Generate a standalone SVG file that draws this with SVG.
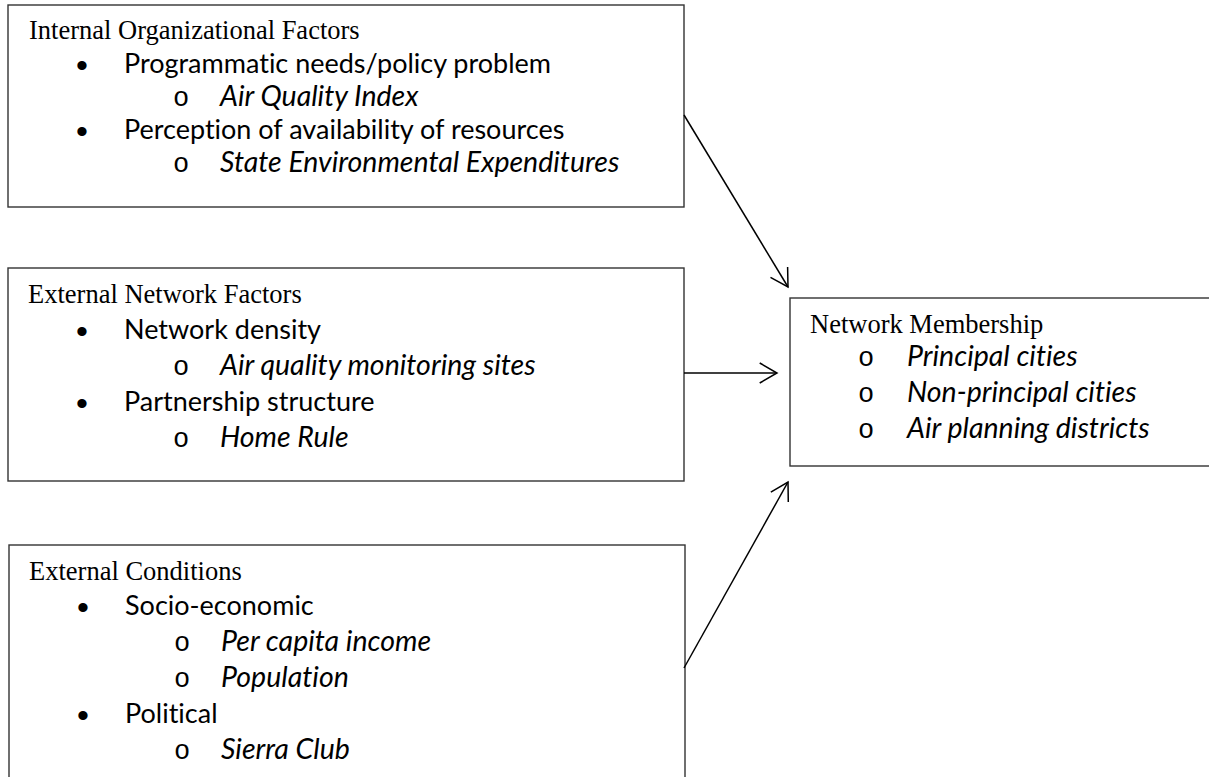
<svg xmlns="http://www.w3.org/2000/svg" width="1209" height="777" viewBox="0 0 1209 777">
<defs>
<style>
.box{fill:#fff;stroke:#333;stroke-width:1.4}
.h{font-family:"Liberation Serif","Times New Roman",serif;font-size:26.5px;fill:#000}
.t{font-family:Lato,"Liberation Sans",sans-serif;font-size:27px;fill:#000;font-variant-ligatures:none}
.i{font-family:Lato,"Liberation Sans",sans-serif;font-size:28.5px;font-style:italic;fill:#000;font-variant-ligatures:none}
.b{font-family:"Liberation Sans",sans-serif;font-size:34px;fill:#000;text-anchor:middle}
.o{font-family:"Liberation Mono","Courier New",monospace;font-size:27px;fill:#000;text-anchor:middle}
.c{fill:none;stroke:#000;stroke-width:1.5}
</style>
<marker id="ah" markerUnits="userSpaceOnUse" markerWidth="40" markerHeight="40" refX="0" refY="0" viewBox="-20 -20 40 40" orient="auto" overflow="visible">
<path d="M-17.3,-10 L0,0 L-17.3,10" fill="none" stroke="#000" stroke-width="1.5"/>
</marker>
</defs>
<rect width="1209" height="777" fill="#fff"/>
<g id="internal">
<rect class="box" x="8" y="5" width="676" height="202"/>
<text class="h" x="29" y="39">Internal Organizational Factors</text>
<text class="b" x="82" y="77">•</text>
<text class="t" x="124" y="73">Programmatic needs/policy problem</text>
<text class="o" x="181" y="106">o</text>
<text class="i" x="220" y="106">Air Quality Index</text>
<text class="b" x="82" y="143">•</text>
<text class="t" x="124" y="139">Perception of availability of resources</text>
<text class="o" x="181" y="172">o</text>
<text class="i" x="220" y="172">State Environmental Expenditures</text>
</g>
<g id="external-network">
<rect class="box" x="8" y="268" width="676" height="213"/>
<text class="h" x="28" y="303">External Network Factors</text>
<text class="b" x="82" y="343">•</text>
<text class="t" x="124" y="339">Network density</text>
<text class="o" x="181" y="375">o</text>
<text class="i" x="220" y="375">Air quality monitoring sites</text>
<text class="b" x="82" y="415">•</text>
<text class="t" x="124" y="411">Partnership structure</text>
<text class="o" x="181" y="447">o</text>
<text class="i" x="220" y="447">Home Rule</text>
</g>
<g id="external-conditions">
<rect class="box" x="9" y="545" width="676" height="260"/>
<text class="h" x="29" y="580">External Conditions</text>
<text class="b" x="83" y="619">•</text>
<text class="t" x="125" y="615">Socio-economic</text>
<text class="o" x="182" y="651">o</text>
<text class="i" x="221" y="651">Per capita income</text>
<text class="o" x="182" y="687">o</text>
<text class="i" x="221" y="687">Population</text>
<text class="b" x="83" y="727">•</text>
<text class="t" x="125" y="723">Political</text>
<text class="o" x="182" y="759">o</text>
<text class="i" x="221" y="759">Sierra Club</text>
</g>
<g id="network-membership">
<rect class="box" x="790" y="298" width="440" height="168"/>
<text class="h" x="810" y="333">Network Membership</text>
<text class="o" x="866" y="366">o</text>
<text class="i" x="907" y="366">Principal cities</text>
<text class="o" x="866" y="402">o</text>
<text class="i" x="907" y="402">Non-principal cities</text>
<text class="o" x="866" y="438">o</text>
<text class="i" x="907" y="438">Air planning districts</text>
</g>
<g id="connectors">
<path class="c" d="M684,115 L788,287" marker-end="url(#ah)"/>
<path class="c" d="M684,373 L777,373" marker-end="url(#ah)"/>
<path class="c" d="M684,668 L788,482" marker-end="url(#ah)"/>
</g>
</svg>
